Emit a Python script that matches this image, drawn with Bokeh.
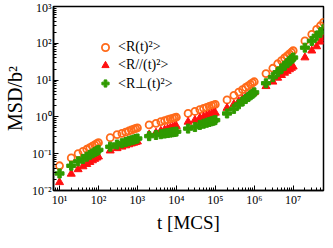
from bokeh.plotting import figure
from bokeh.models import Range1d, FixedTicker, CustomJSTickFormatter, Legend, LegendItem, Title
from bokeh.embed import file_html
from bokeh.resources import INLINE

# time in MCS
t = [10,
     20, 30, 40, 50, 60, 70, 80, 90, 100,
     200, 300, 400, 500, 600, 700, 800, 900, 1000,
     2000, 3000, 4000, 5000, 6000, 7000, 8000, 9000, 1e4,
     2e4, 3e4, 4e4, 5e4, 6e4, 7e4, 8e4, 9e4, 1e5,
     2e5, 3e5, 4e5, 5e5, 6e5, 7e5, 8e5, 9e5, 1e6,
     2e6, 3e6, 4e6, 5e6, 6e6, 7e6, 8e6, 9e6, 1e7,
     2e7, 3e7, 4e7, 5e7, 6e7]

# <R(t)^2>
msd_total = [0.047,
             0.077, 0.100, 0.116, 0.132, 0.147, 0.161, 0.174, 0.187, 0.199,
             0.273, 0.33, 0.356, 0.387, 0.414, 0.44, 0.462, 0.484, 0.503,
             0.604, 0.67, 0.744, 0.795, 0.84, 0.879, 0.916, 0.948, 0.979,
             1.24, 1.41, 1.58, 1.71, 1.82, 1.92, 2.02, 2.10, 2.18,
             2.90, 3.86, 4.73, 5.54, 6.29, 7.01, 7.71, 8.37, 9.02,
             15.0, 21.0, 27.8, 33.9, 39.9, 45.7, 51.5, 57.1, 62.8,
             116, 175, 240, 300, 370]

# <R_par(t)^2>
msd_par = [0.0167,
           0.0283, 0.0375, 0.045, 0.052, 0.059, 0.0655, 0.0716, 0.0775, 0.083,
           0.121, 0.140, 0.154, 0.167, 0.178, 0.188, 0.197, 0.205, 0.213,
           0.331, 0.37, 0.416, 0.448, 0.476, 0.50, 0.523, 0.544, 0.563,
           0.733, 0.82, 0.935, 1.01, 1.077, 1.136, 1.19, 1.24, 1.29,
           1.74, 2.2, 2.66, 3.04, 3.40, 3.73, 4.05, 4.35, 4.65,
           6.8, 9.0, 11.5, 13.6, 15.7, 17.6, 19.5, 21.3, 23.1,
           41, 63, 82, 110, 135]

# <R_perp(t)^2>
msd_perp = [0.029,
            0.047, 0.062, 0.072, 0.083, 0.093, 0.102, 0.111, 0.119, 0.127,
            0.155, 0.178, 0.193, 0.208, 0.220, 0.231, 0.241, 0.251, 0.259,
            0.30, 0.322, 0.339, 0.353, 0.364, 0.374, 0.383, 0.391, 0.398,
            0.481, 0.53, 0.605, 0.651, 0.691, 0.727, 0.76, 0.79, 0.818,
            1.24, 1.65, 2.19, 2.63, 3.05, 3.46, 3.86, 4.25, 4.64,
            8.2, 12.0, 16.4, 20.5, 24.6, 28.7, 32.8, 36.9, 41.0,
            76, 116, 160, 195, 240]

labels = ["<R(t)²>", "<R//(t)²>", "<R⊥(t)²>"]
x_title = "t [MCS]"
y_title = "MSD/b²"
x_major = [1e1, 1e2, 1e3, 1e4, 1e5, 1e6, 1e7]
y_major = [1e-2, 1e-1, 1e0, 1e1, 1e2, 1e3]

FONT = "Liberation Serif"

p = figure(width=325, height=232, x_axis_type="log", y_axis_type="log",
           x_range=Range1d(7, 6e7), y_range=Range1d(1e-2, 1e3),
           output_backend="svg", toolbar_location=None,
           min_border_top=6, min_border_right=2, min_border_left=0, min_border_bottom=0)

p.grid.visible = False
p.outline_line_color = "black"
p.outline_line_width = 1.5
p.background_fill_color = "white"
p.border_fill_color = "white"

def minors(majors):
    out = []
    for m in majors:
        for k in range(2, 10):
            out.append(m * k)
    return out

p.xaxis.ticker = FixedTicker(ticks=x_major, minor_ticks=minors([1e0] + x_major))
p.yaxis.ticker = FixedTicker(ticks=y_major, minor_ticks=minors([1e-3] + y_major))

fmt_code = """
const sup = {"0":"⁰","1":"¹","2":"²","3":"³","4":"⁴","5":"⁵","6":"⁶","7":"⁷","8":"⁸","9":"⁹","-":"⁻"};
const e = Math.round(Math.log10(tick));
return "10" + String(e).split("").map(c => sup[c]).join("");
"""
for ax in (p.xaxis, p.yaxis):
    ax.formatter = CustomJSTickFormatter(code=fmt_code)
    ax.major_label_text_font = FONT
    ax.major_label_text_font_size = "12px"
    ax.major_label_text_color = "black"
    ax.axis_label_text_font = FONT
    ax.axis_label_text_font_style = "normal"
    ax.axis_label_text_color = "black"
    ax.axis_line_color = "black"
    ax.axis_line_width = 1.5
    ax.major_tick_in = 5
    ax.major_tick_out = 0
    ax.minor_tick_in = 3
    ax.minor_tick_out = 0
    ax.major_tick_line_color = "black"
    ax.minor_tick_line_color = "black"
    ax.major_label_standoff = 2

p.yaxis.axis_label = y_title
p.yaxis.axis_label_text_font_size = "20px"
p.yaxis.axis_label_standoff = 3

p.add_layout(Title(text=x_title, align="center", text_font=FONT, text_font_size="19px",
                   text_font_style="normal", text_color="black", standoff=0, offset=0,
                   text_line_height=1.0), "below")

r1 = p.scatter(t, msd_total, marker="circle", size=7, fill_color=None,
               line_color="#ff6a1a", line_width=1.8)
r2 = p.scatter(t, msd_par, marker="triangle", size=8, fill_color="#ff1010",
               line_color="#ff1010")
r3 = p.scatter(t, msd_perp, marker="plus", size=9, fill_color="#2f9a00",
               line_color="#2f9a00")

legend = Legend(items=[LegendItem(label=labels[0], renderers=[r1]),
                       LegendItem(label=labels[1], renderers=[r2]),
                       LegendItem(label=labels[2], renderers=[r3])],
                location=(43, 98), border_line_color=None, background_fill_alpha=0,
                padding=0, margin=0, spacing=0, glyph_width=18, glyph_height=18,
                label_height=18, label_standoff=4,
                label_text_font=FONT, label_text_font_size="14px",
                label_text_color="black")
p.add_layout(legend)

open("out.html", "w").write(file_html(p, INLINE))
